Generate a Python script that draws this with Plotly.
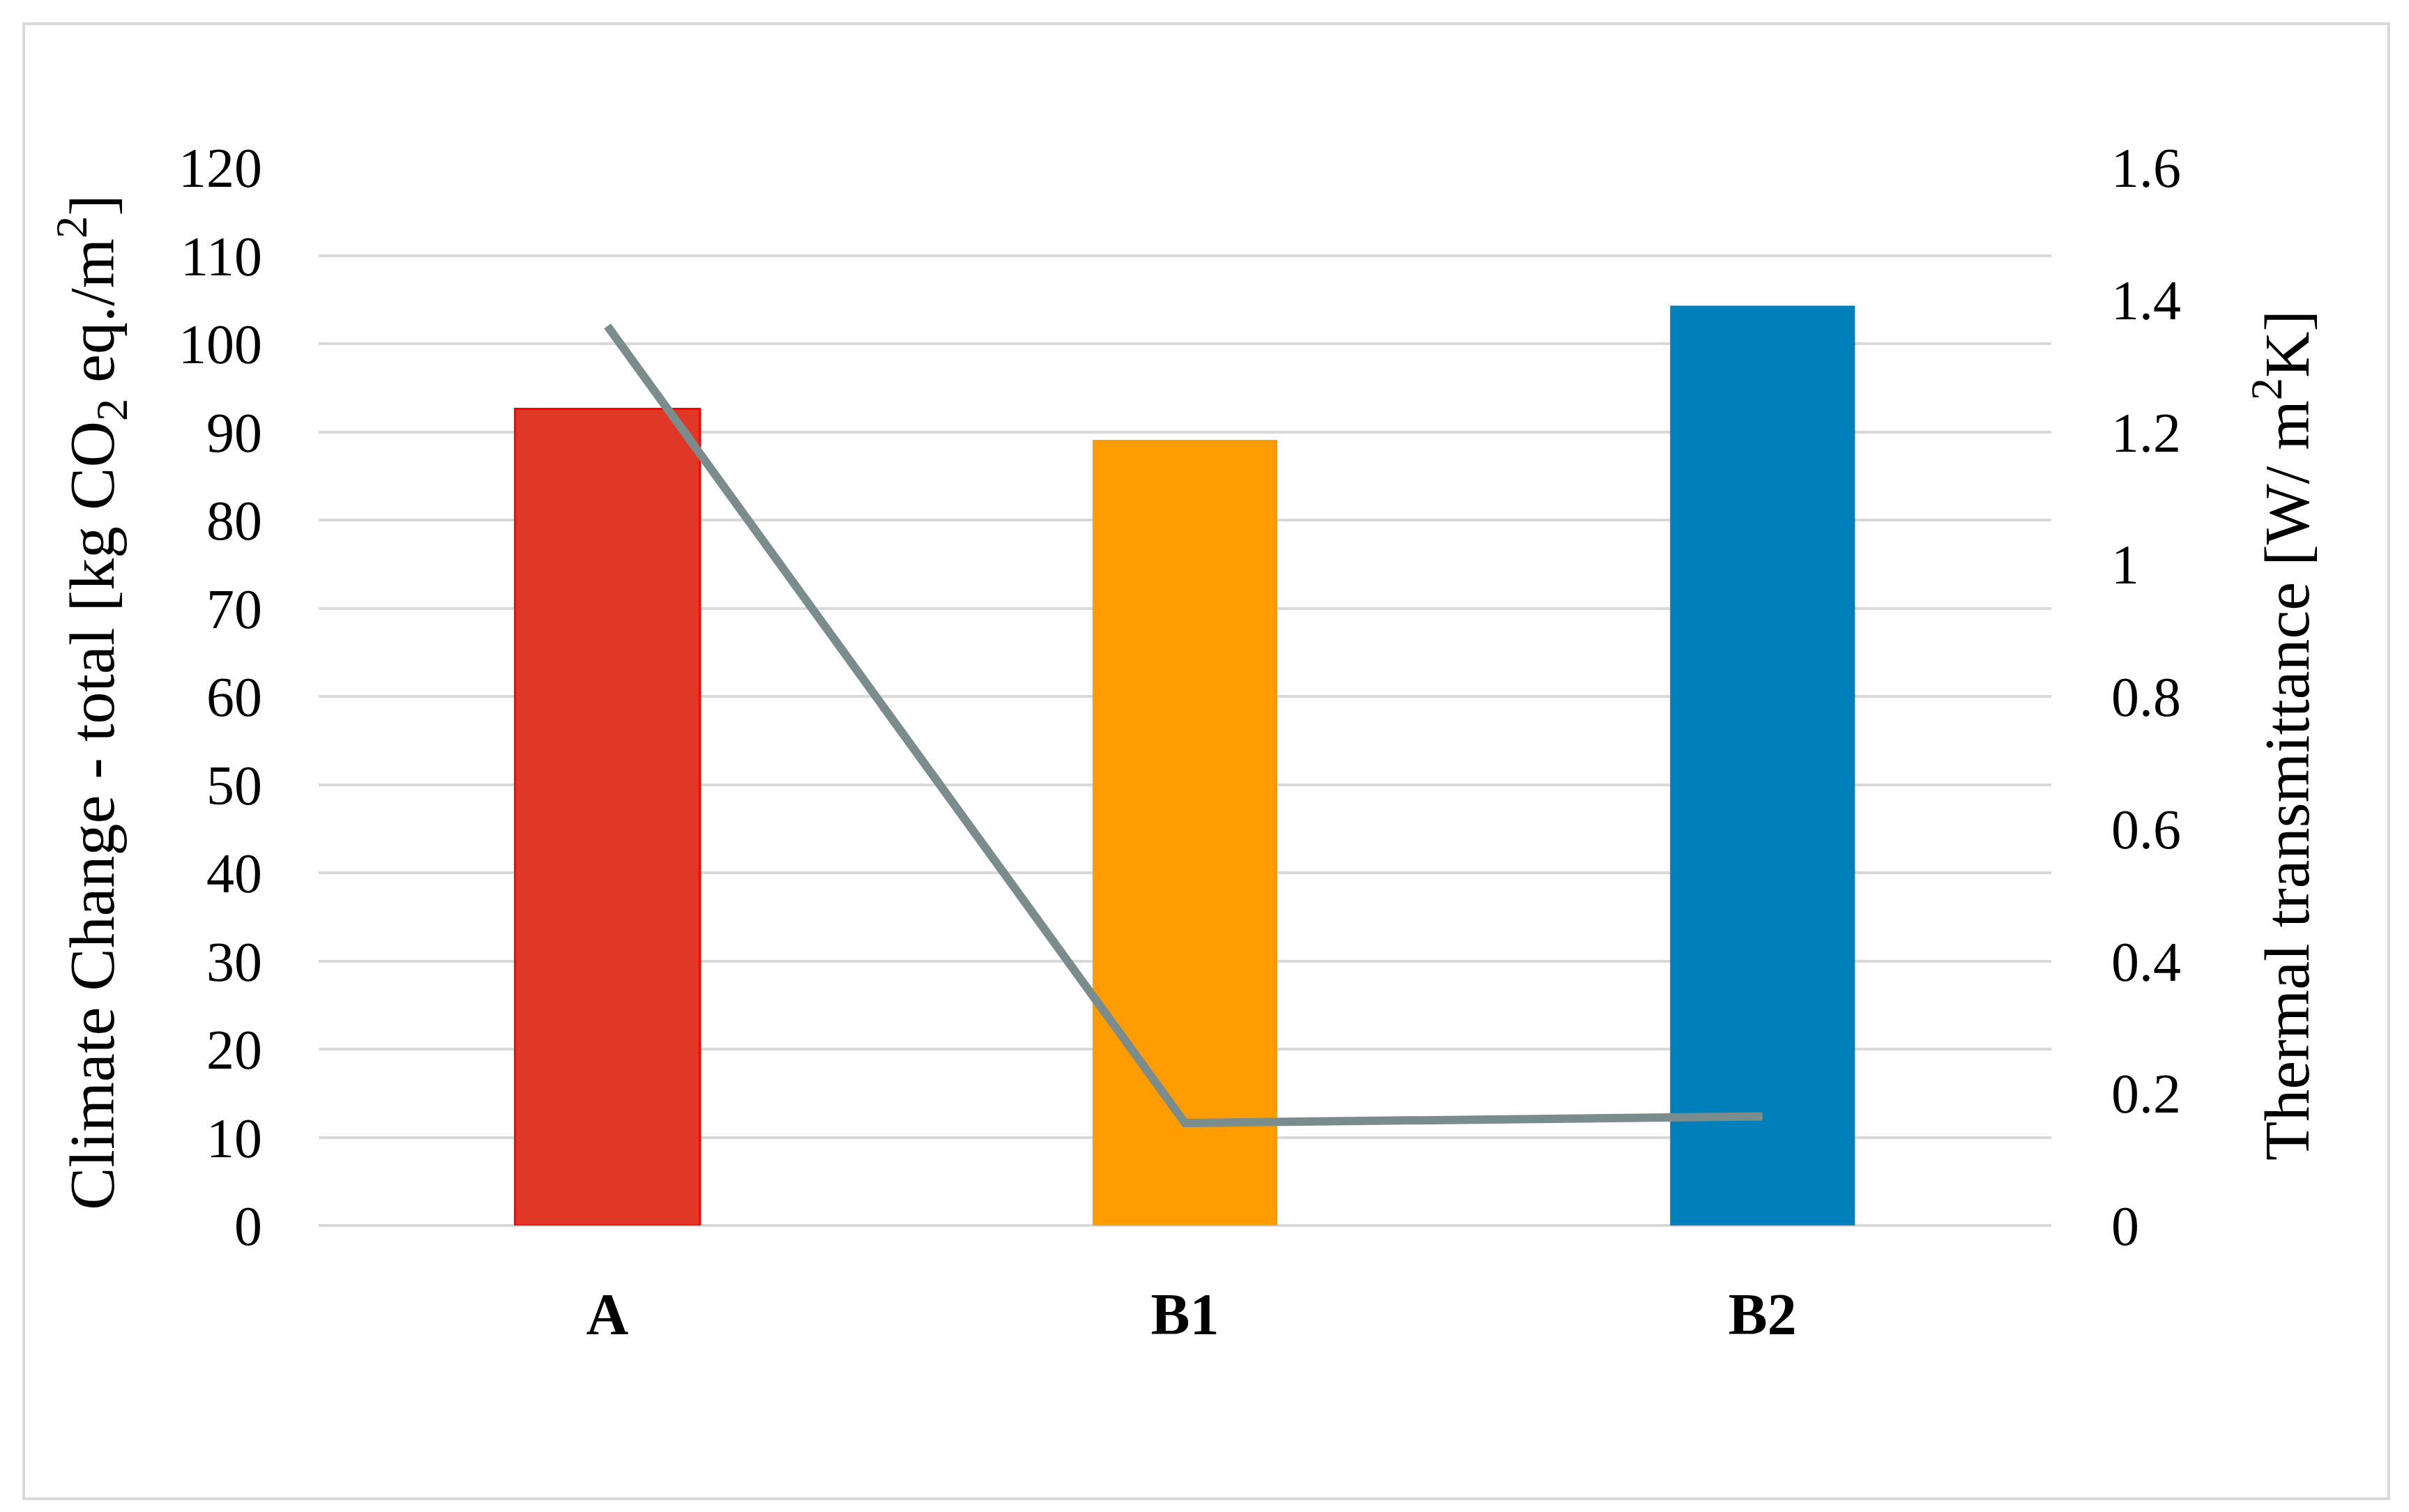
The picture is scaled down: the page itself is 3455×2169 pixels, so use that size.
import plotly.graph_objects as go

categories = ["A", "B1", "B2"]
climate_change = [92.6, 89.1, 104.3]
thermal_transmittance = [1.36, 0.155, 0.165]
bar_colors = ["#E03826", "#FF9D00", "#0080BB"]
bar_line_colors = ["#FF0000", "#FF9D00", "#0080BB"]
bar_line_widths = [3, 0, 0]

W, H = 3455, 2169
L, R, T, B = 449, 2934, 232, 1750

FONT = "Liberation Serif"

fig = go.Figure()
fig.add_trace(go.Bar(
    x=categories, y=climate_change,
    marker=dict(color=bar_colors, line=dict(color=bar_line_colors, width=bar_line_widths)),
    width=0.32, showlegend=False,
))
fig.add_trace(go.Scatter(
    x=categories, y=thermal_transmittance, yaxis="y2", mode="lines",
    line=dict(color="#7B8C8C", width=12), showlegend=False,
))

fig.update_layout(
    width=W, height=H,
    margin=dict(l=L, r=W - R, t=T, b=H - B),
    paper_bgcolor="white", plot_bgcolor="white",
    font=dict(family=FONT, color="black", size=80),
    xaxis=dict(
        tickfont=dict(family=FONT, size=84, weight="bold"),
        showgrid=False, showline=False, ticks="", ticklabelstandoff=71,
    ),
    yaxis=dict(
        range=[0, 120], dtick=10, showgrid=True, gridcolor="#D9D9D9", gridwidth=4,
        zeroline=True, zerolinecolor="#D9D9D9", zerolinewidth=4,
        showline=False, ticks="", ticklabelstandoff=80,
        tickfont=dict(family=FONT, size=80),
    ),
    yaxis2=dict(
        range=[0, 1.6], dtick=0.2, overlaying="y", side="right",
        showgrid=False, zeroline=False, showline=False, ticks="", ticklabelstandoff=85,
        tickfont=dict(family=FONT, size=80),
    ),
    bargap=0.68,
)

fig.add_annotation(
    text="Climate Change - total [kg CO<sub>2</sub> eq./m<sup>2</sup>]",
    xref="paper", yref="paper",
    x=(123 - L) / (R - L), y=(B - 1000) / (B - T),
    textangle=-90, showarrow=False, font=dict(family=FONT, size=92),
    xanchor="center", yanchor="middle",
)
fig.add_annotation(
    text="Thermal transmittance [W/ m<sup>2</sup>K]",
    xref="paper", yref="paper",
    x=(3265 - L) / (R - L), y=(B - 1047) / (B - T),
    textangle=-90, showarrow=False, font=dict(family=FONT, size=92),
    xanchor="center", yanchor="middle",
)

fig.add_shape(
    type="rect", xref="paper", yref="paper",
    x0=(26 - L) / (R - L), x1=(3418 - L) / (R - L),
    y0=(B - 2142) / (B - T), y1=(B - 26) / (B - T),
    line=dict(color="#D9D9D9", width=4), fillcolor="rgba(0,0,0,0)", layer="below",
)

fig.write_html("out.html")
